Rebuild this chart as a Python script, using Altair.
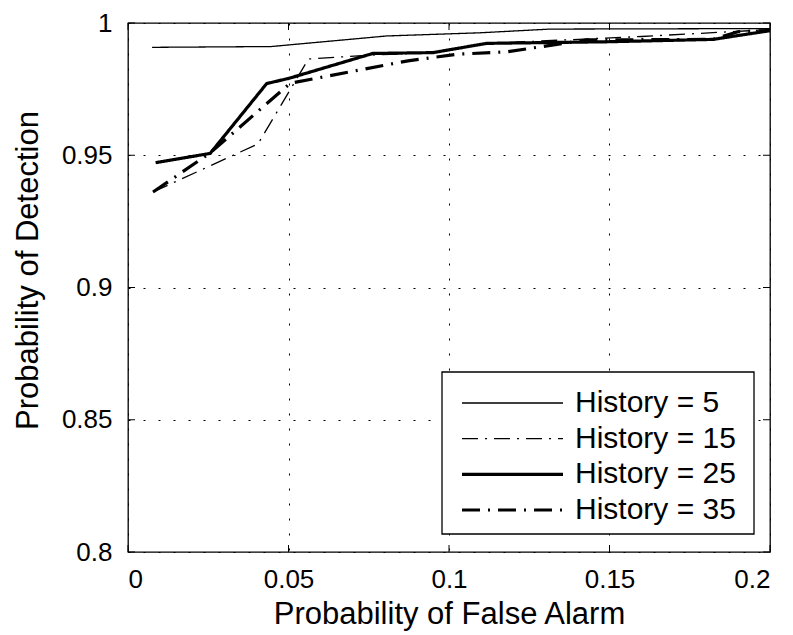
import altair as alt
import pandas as pd

series_names = ["History = 5", "History = 15", "History = 25", "History = 35"]

h5_x = [0.0075, 0.0446, 0.0806, 0.1097, 0.1315, 0.2]
h5_y = [0.9908, 0.9911, 0.9951, 0.9963, 0.9977, 0.9979]

h15_x = [0.0078, 0.0405, 0.0562, 0.0763, 0.095, 0.1117, 0.125, 0.16, 0.2]
h15_y = [0.9361, 0.9543, 0.9864, 0.9879, 0.9888, 0.9923, 0.993, 0.9949, 0.9975]

h25_x = [0.0086, 0.0256, 0.0432, 0.0502, 0.0763, 0.095, 0.1117, 0.1492, 0.1822, 0.2]
h25_y = [0.9472, 0.9507, 0.9771, 0.9791, 0.9885, 0.9888, 0.9923, 0.9929, 0.9938, 0.9971]

h35_x = [0.0078, 0.0255, 0.0505, 0.0872, 0.1025, 0.118, 0.1429, 0.1822, 0.19, 0.2]
h35_y = [0.9361, 0.9508, 0.9772, 0.9857, 0.9882, 0.9891, 0.9936, 0.9938, 0.9967, 0.9972]

x_ticks = [0, 0.05, 0.1, 0.15, 0.2]
y_ticks = [0.8, 0.85, 0.9, 0.95, 1.0]

rows = []
for name, xs_, ys_ in zip(series_names, [h5_x, h15_x, h25_x, h35_x], [h5_y, h15_y, h25_y, h35_y]):
    for i, (a, b) in enumerate(zip(xs_, ys_)):
        rows.append({"series": name, "pfa": a, "pd": b, "order": i})
df = pd.DataFrame(rows)

FONT = "Liberation Sans"
W, H = 642, 529

thick_test = "datum.series == 'History = 25' || datum.series == 'History = 35'"
dash_scale = alt.Scale(domain=series_names,
                       range=[[1, 0], [16, 7, 2, 7], [1, 0], [18, 8, 2, 8]])

xs = alt.Scale(domain=[0, 0.2], nice=False, zero=False)
ys = alt.Scale(domain=[0.8, 1.0], nice=False, zero=False)

lines = alt.Chart(df).mark_line(color="black", clip=True).encode(
    x=alt.X("pfa:Q", scale=xs,
            axis=alt.Axis(values=x_ticks, format="~g", title="Probability of False Alarm",
                          grid=True, gridDash=[2, 13], gridColor="black", gridOpacity=1, gridWidth=1,
                          ticks=False, domain=False, labelFontSize=26, labelFont=FONT,
                          labelColor="black", labelPadding=14, titleFontSize=31, titleFont=FONT,
                          titleFontWeight="normal", titleColor="black", titleBaseline="middle",
                          titleY=62)),
    y=alt.Y("pd:Q", scale=ys,
            axis=alt.Axis(values=y_ticks, format="~g", title="Probability of Detection",
                          grid=True, gridDash=[2, 13], gridColor="black", gridOpacity=1, gridWidth=1,
                          ticks=False, domain=False, labelFontSize=26, labelFont=FONT,
                          labelColor="black", labelPadding=16, titleFontSize=31, titleFont=FONT,
                          titleFontWeight="normal", titleColor="black", titleBaseline="middle",
                          titleAlign="center", titleAngle=270, titleX=-100, titleY=247)),
    order="order:Q",
    strokeDash=alt.StrokeDash("series:N", scale=dash_scale, legend=None),
    strokeWidth=alt.condition(thick_test, alt.value(3.2), alt.value(1.3)),
)

xt = pd.DataFrame({"pfa": x_ticks})
yt = pd.DataFrame({"t": y_ticks})

tick_bottom = alt.Chart(xt).mark_rule(color="black", strokeWidth=1).encode(
    x=alt.X("pfa:Q", scale=xs), y=alt.value(H - 7), y2=alt.value(H))
tick_top = alt.Chart(xt).mark_rule(color="black", strokeWidth=1).encode(
    x=alt.X("pfa:Q", scale=xs), y=alt.value(0), y2=alt.value(7))
tick_left = alt.Chart(yt).mark_rule(color="black", strokeWidth=1).encode(
    y=alt.Y("t:Q", scale=ys, axis=None), x=alt.value(0), x2=alt.value(7))
tick_right = alt.Chart(yt).mark_rule(color="black", strokeWidth=1).encode(
    y=alt.Y("t:Q", scale=ys, axis=None), x=alt.value(W - 7), x2=alt.value(W))

# legend (drawn as marks, rows placed by a point scale)
leg_df = pd.DataFrame({"series": series_names})
leg_y = alt.Scale(type="point", domain=series_names, range=[380, 487], padding=0)

leg_box = alt.Chart(pd.DataFrame({"k": [0]})).mark_rect(
    fill="white", stroke="black", strokeWidth=1.3).encode(
    x=alt.value(314), x2=alt.value(626), y=alt.value(349), y2=alt.value(511))
leg_lines = alt.Chart(leg_df).mark_rule(color="black").encode(
    x=alt.value(334), x2=alt.value(435),
    y=alt.Y("series:N", scale=leg_y, axis=None),
    strokeDash=alt.StrokeDash("series:N", scale=dash_scale, legend=None),
    strokeWidth=alt.condition(thick_test, alt.value(3.2), alt.value(1.3)),
)
leg_text = alt.Chart(leg_df).mark_text(
    align="left", baseline="middle", font=FONT, fontSize=30, color="black").encode(
    x=alt.value(447), y=alt.Y("series:N", scale=leg_y, axis=None), text="series:N")

chart = alt.layer(
    lines, tick_bottom, tick_top, tick_left, tick_right, leg_box, leg_lines, leg_text
).resolve_scale(y="independent").properties(
    width=W, height=H,
    autosize=alt.AutoSizeParams(type="none"),
    padding={"left": 128, "top": 23, "right": 23, "bottom": 83},
    background="white",
).configure_view(stroke="black", strokeWidth=1.3)

chart.save("out.html", embed_options={"renderer": "svg", "actions": False})
